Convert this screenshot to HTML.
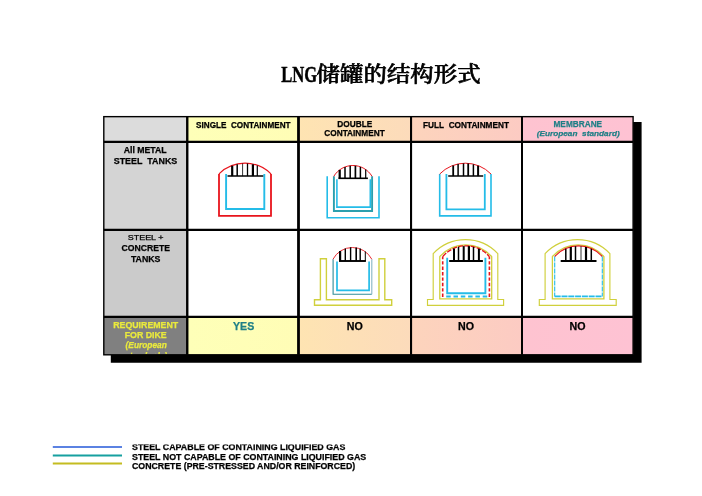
<!DOCTYPE html>
<html lang="zh"><head><meta charset="utf-8"><title>LNG储罐的结构形式</title>
<style>
html,body{margin:0;padding:0;background:#fff;}
body{width:702px;height:496px;overflow:hidden;position:relative;}
svg{position:absolute;left:0;top:0;display:block;will-change:transform;}
text{font-family:"Liberation Sans", sans-serif;}
.b{font-weight:bold;}
.i{font-style:italic;}
.title{font-family:"Liberation Serif","Noto Serif CJK SC",serif;font-weight:bold;}
</style></head><body>
<svg width="702" height="496" viewBox="0 0 702 496">
<defs>
<linearGradient id="g1" x1="0" x2="1" y1="0" y2="0"><stop offset="0" stop-color="#feffb8"/><stop offset="1" stop-color="#fffdb6"/></linearGradient>
<linearGradient id="g2" x1="0" x2="1" y1="0" y2="0"><stop offset="0" stop-color="#fee4b2"/><stop offset="1" stop-color="#fcdbbb"/></linearGradient>
<linearGradient id="g3" x1="0" x2="1" y1="0" y2="0"><stop offset="0" stop-color="#fdd4bc"/><stop offset="1" stop-color="#fccbc3"/></linearGradient>
<linearGradient id="g4" x1="0" x2="1" y1="0" y2="0"><stop offset="0" stop-color="#fec3d0"/><stop offset="1" stop-color="#fec2d3"/></linearGradient>
</defs>

<path d="M633.1 122H641.6V362.65H110.8V354.8H633.1Z" fill="#000"/>
<rect x="103.8" y="116.65" width="83.45" height="25.25" fill="#dcdcdc"/>
<rect x="187.25" y="116.65" width="111.25" height="25.25" fill="url(#g1)"/>
<rect x="298.5" y="116.65" width="112.55000000000001" height="25.25" fill="url(#g2)"/>
<rect x="411.05" y="116.65" width="110.94999999999999" height="25.25" fill="url(#g3)"/>
<rect x="522.0" y="116.65" width="111.10000000000002" height="25.25" fill="url(#g4)"/>
<rect x="103.8" y="141.9" width="83.45" height="87.9" fill="#d4d4d4"/>
<rect x="187.25" y="141.9" width="111.25" height="87.9" fill="#fff"/>
<rect x="298.5" y="141.9" width="112.55000000000001" height="87.9" fill="#fff"/>
<rect x="411.05" y="141.9" width="110.94999999999999" height="87.9" fill="#fff"/>
<rect x="522.0" y="141.9" width="111.10000000000002" height="87.9" fill="#fff"/>
<rect x="103.8" y="229.8" width="83.45" height="87.14999999999998" fill="#cbcbcb"/>
<rect x="187.25" y="229.8" width="111.25" height="87.14999999999998" fill="#fff"/>
<rect x="298.5" y="229.8" width="112.55000000000001" height="87.14999999999998" fill="#fff"/>
<rect x="411.05" y="229.8" width="110.94999999999999" height="87.14999999999998" fill="#fff"/>
<rect x="522.0" y="229.8" width="111.10000000000002" height="87.14999999999998" fill="#fff"/>
<rect x="103.8" y="316.95" width="83.45" height="37.85000000000002" fill="#808080"/>
<rect x="187.25" y="316.95" width="111.25" height="37.85000000000002" fill="url(#g1)"/>
<rect x="298.5" y="316.95" width="112.55000000000001" height="37.85000000000002" fill="url(#g2)"/>
<rect x="411.05" y="316.95" width="110.94999999999999" height="37.85000000000002" fill="url(#g3)"/>
<rect x="522.0" y="316.95" width="111.10000000000002" height="37.85000000000002" fill="url(#g4)"/>
<line x1="187.25" y1="116.65" x2="187.25" y2="354.8" stroke="#000" stroke-width="2.4"/>
<line x1="298.5" y1="116.65" x2="298.5" y2="354.8" stroke="#000" stroke-width="2.8"/>
<line x1="411.05" y1="116.65" x2="411.05" y2="354.8" stroke="#000" stroke-width="2.1"/>
<line x1="522.0" y1="116.65" x2="522.0" y2="354.8" stroke="#000" stroke-width="2.0"/>
<line x1="103.8" y1="141.9" x2="633.1" y2="141.9" stroke="#000" stroke-width="2.2"/>
<line x1="103.8" y1="229.8" x2="633.1" y2="229.8" stroke="#000" stroke-width="2.2"/>
<line x1="103.8" y1="316.95" x2="633.1" y2="316.95" stroke="#000" stroke-width="2.2"/>
<rect x="103.8" y="116.65" width="529.3000000000001" height="238.15" fill="none" stroke="#000" stroke-width="1.4"/>
<text x="281.2" y="81.5" font-size="22.4" class="title" text-anchor="start" textLength="36" lengthAdjust="spacingAndGlyphs" fill="#000" stroke="#000" stroke-width="0.45">LNG</text>
<text x="316.6" y="80.7" font-size="21" class="title" style="font-weight:500" stroke="#000" stroke-width="0.65" stroke-linejoin="round" text-anchor="start" textLength="164" lengthAdjust="spacingAndGlyphs" fill="#000">储罐的结构形式</text>
<text x="243.3" y="127.7" font-size="8.6" class="b" fill="#000" stroke="#000" stroke-width="0.25" text-anchor="middle" textLength="94.5" lengthAdjust="spacingAndGlyphs" xml:space="preserve">SINGLE&#160; CONTAINMENT</text>
<text x="354.8" y="126.6" font-size="8.6" class="b" fill="#000" stroke="#000" stroke-width="0.25" text-anchor="middle" textLength="35" lengthAdjust="spacingAndGlyphs">DOUBLE</text>
<text x="354.5" y="136.4" font-size="8.6" class="b" fill="#000" stroke="#000" stroke-width="0.25" text-anchor="middle" textLength="60.4" lengthAdjust="spacingAndGlyphs">CONTAINMENT</text>
<text x="466" y="127.7" font-size="8.6" class="b" fill="#000" stroke="#000" stroke-width="0.25" text-anchor="middle" textLength="86" lengthAdjust="spacingAndGlyphs" xml:space="preserve">FULL&#160; CONTAINMENT</text>
<text x="577.8" y="126.9" font-size="9.6" class="b" fill="#1f7f86" stroke="#1f7f86" stroke-width="0.25" text-anchor="middle" textLength="48.6" lengthAdjust="spacingAndGlyphs">MEMBRANE</text>
<text x="578.2" y="135.8" font-size="8" class="b i" fill="#1f7f86" stroke="#1f7f86" stroke-width="0.25" text-anchor="middle" textLength="83" lengthAdjust="spacingAndGlyphs">(European&#160; standard)</text>
<text x="145.2" y="152.8" font-size="8.8" class="b" fill="#000" stroke="#000" stroke-width="0.25" text-anchor="middle" textLength="43" lengthAdjust="spacingAndGlyphs">All METAL</text>
<text x="145.5" y="163.8" font-size="8.8" class="b" fill="#000" stroke="#000" stroke-width="0.25" text-anchor="middle" textLength="63.5" lengthAdjust="spacingAndGlyphs">STEEL&#160; TANKS</text>
<text x="145.6" y="239.6" font-size="7.2" class="" fill="#000" stroke="#000" stroke-width="0.25" text-anchor="middle" textLength="35.6" lengthAdjust="spacingAndGlyphs">STEEL +</text>
<text x="145.7" y="251.3" font-size="9.7" class="b" fill="#000" stroke="#000" stroke-width="0.25" text-anchor="middle" textLength="48.6" lengthAdjust="spacingAndGlyphs">CONCRETE</text>
<text x="145.7" y="261.8" font-size="9.5" class="b" fill="#000" stroke="#000" stroke-width="0.25" text-anchor="middle" textLength="29.6" lengthAdjust="spacingAndGlyphs">TANKS</text>
<clipPath id="cl"><rect x="104" y="318" width="82" height="36"/></clipPath><g clip-path="url(#cl)">
<text x="145.7" y="327.9" font-size="8.8" class="b" fill="#eaea3c" stroke="#eaea3c" stroke-width="0.25" text-anchor="middle" textLength="65" lengthAdjust="spacingAndGlyphs">REQUIREMENT</text>
<text x="145.7" y="337.7" font-size="9.1" class="b" fill="#eaea3c" stroke="#eaea3c" stroke-width="0.25" text-anchor="middle" textLength="42" lengthAdjust="spacingAndGlyphs">FOR DIKE</text>
<text x="146.2" y="348.0" font-size="8.9" class="b i" fill="#eaea3c" stroke="#eaea3c" stroke-width="0.25" text-anchor="middle" textLength="41.3" lengthAdjust="spacingAndGlyphs">(European</text>
<text x="146.2" y="359.3" font-size="8.9" class="b i" fill="#eaea3c" stroke="#eaea3c" stroke-width="0.25" text-anchor="middle" textLength="42" lengthAdjust="spacingAndGlyphs">standards)</text>
</g>
<text x="243.6" y="329.8" font-size="10.3" class="b" fill="#1f7f86" stroke="#1f7f86" stroke-width="0.25" text-anchor="middle" textLength="21.2" lengthAdjust="spacingAndGlyphs">YES</text>
<text x="354.8" y="329.8" font-size="10.3" class="b" fill="#000" stroke="#000" stroke-width="0.25" text-anchor="middle" textLength="16" lengthAdjust="spacingAndGlyphs">NO</text>
<text x="466" y="329.8" font-size="10.3" class="b" fill="#000" stroke="#000" stroke-width="0.25" text-anchor="middle" textLength="16" lengthAdjust="spacingAndGlyphs">NO</text>
<text x="577.5" y="329.8" font-size="10.3" class="b" fill="#000" stroke="#000" stroke-width="0.25" text-anchor="middle" textLength="16" lengthAdjust="spacingAndGlyphs">NO</text>
<path d="M219.0 173.9V215.9H271.0V173.9" fill="none" stroke="#e8141c" stroke-width="1.8"/>
<path d="M219.0 173.9A36.94 36.94 0 0 1 271.0 173.9" fill="none" stroke="#e8141c" stroke-width="1.2"/>
<path d="M226.1 174V209H264.3V174" fill="none" stroke="#24bce8" stroke-width="1.9"/>
<line x1="227.5" y1="176.1" x2="263.3" y2="176.1" stroke="#000" stroke-width="1.5"/>
<line x1="232.2" y1="165.7" x2="232.2" y2="176.1" stroke="#000" stroke-width="2.2"/>
<line x1="237.2" y1="164.2" x2="237.2" y2="176.1" stroke="#000" stroke-width="1.5"/>
<line x1="242.6" y1="163.5" x2="242.6" y2="176.1" stroke="#000" stroke-width="0.8"/>
<line x1="247.5" y1="163.5" x2="247.5" y2="176.1" stroke="#000" stroke-width="1.3"/>
<line x1="252.9" y1="164.3" x2="252.9" y2="176.1" stroke="#000" stroke-width="2.2"/>
<line x1="257.3" y1="165.5" x2="257.3" y2="176.1" stroke="#000" stroke-width="1.2"/>
<path d="M439.7 174.0V215.9H491.0V174.0" fill="none" stroke="#24bce8" stroke-width="1.6"/>
<path d="M439.7 174.0A35.86 35.86 0 0 1 491.0 174.0" fill="none" stroke="#e8141c" stroke-width="1.0"/>
<path d="M446.4 174V209.3H484.8V174" fill="none" stroke="#24bce8" stroke-width="1.8"/>
<line x1="448.2" y1="176.1" x2="483.2" y2="176.1" stroke="#000" stroke-width="1.5"/>
<line x1="453.2" y1="165.5" x2="453.2" y2="176.1" stroke="#000" stroke-width="1.8"/>
<line x1="458.1" y1="164.1" x2="458.1" y2="176.1" stroke="#000" stroke-width="1.5"/>
<line x1="463.5" y1="163.4" x2="463.5" y2="176.1" stroke="#000" stroke-width="1.5"/>
<line x1="468.2" y1="163.5" x2="468.2" y2="176.1" stroke="#000" stroke-width="1.8"/>
<line x1="473.4" y1="164.3" x2="473.4" y2="176.1" stroke="#000" stroke-width="1.5"/>
<line x1="478.1" y1="165.7" x2="478.1" y2="176.1" stroke="#000" stroke-width="2.0"/>
<path d="M327.2 176.3V217.8H379V176.3" fill="none" stroke="#24bce8" stroke-width="1.6"/>
<path d="M333.9 176.3V211H372.1V176.3" fill="none" stroke="#2a9fae" stroke-width="1.9"/>
<path d="M336.9 179.2V207.1H370.3V179.2" fill="none" stroke="#24bce8" stroke-width="1.6"/>
<path d="M333.8 176.3A22.29 22.29 0 0 1 372.0 176.3" fill="none" stroke="#e8141c" stroke-width="1.0"/>
<line x1="338.4" y1="178.3" x2="367.9" y2="178.3" stroke="#000" stroke-width="1.6"/>
<line x1="339.7" y1="169.9" x2="339.7" y2="178.3" stroke="#000" stroke-width="2.2"/>
<line x1="345" y1="167.0" x2="345" y2="178.3" stroke="#000" stroke-width="1.5"/>
<line x1="350.2" y1="165.8" x2="350.2" y2="178.3" stroke="#000" stroke-width="1.5"/>
<line x1="355.4" y1="165.7" x2="355.4" y2="178.3" stroke="#000" stroke-width="1.7"/>
<line x1="360.4" y1="166.9" x2="360.4" y2="178.3" stroke="#000" stroke-width="1.5"/>
<line x1="365.7" y1="169.6" x2="365.7" y2="178.3" stroke="#000" stroke-width="1.2"/>
<path d="M320.4 258.8H326.4V299.8H379V258.8H384.8V299.8H391.7V305.3H314.5V299.8H320.4Z" fill="none" stroke="#d0d03c" stroke-width="1.4"/>
<path d="M333.1 259.2V294.2H371.8" fill="none" stroke="#2f8c98" stroke-width="1.1"/>
<path d="M371.8 294.2V259.2" fill="none" stroke="#86b4c4" stroke-width="1.1"/>
<path d="M337 261.4V290.3H369.1V261.4" fill="none" stroke="#24bce8" stroke-width="1.7"/>
<path d="M333.0 259.2A21.93 21.93 0 0 1 371.8 259.2" fill="none" stroke="#e8141c" stroke-width="0.9"/>
<line x1="339" y1="261.0" x2="365.9" y2="261.0" stroke="#000" stroke-width="1.9"/>
<line x1="340.1" y1="251.0" x2="340.1" y2="261.0" stroke="#000" stroke-width="2.2"/>
<line x1="345.3" y1="248.4" x2="345.3" y2="261.0" stroke="#000" stroke-width="1.4"/>
<line x1="350.6" y1="247.3" x2="350.6" y2="261.0" stroke="#000" stroke-width="1.4"/>
<line x1="356.2" y1="247.5" x2="356.2" y2="261.0" stroke="#000" stroke-width="1.6"/>
<line x1="360.2" y1="248.6" x2="360.2" y2="261.0" stroke="#000" stroke-width="1.4"/>
<line x1="365.3" y1="251.4" x2="365.3" y2="261.0" stroke="#000" stroke-width="1.0"/>
<path d="M427.5 299.5H433.2V253.6A44.26 44.26 0 0 1 497.8 253.6V299.5H503.6V305.4H427.5Z" fill="none" stroke="#d0d03c" stroke-width="1.15"/>
<path d="M439.8 298.8V256.6A34.43 34.43 0 0 1 491.7 256.6V298.8Z" fill="none" stroke="#d0d03c" stroke-width="1.3"/>
<path d="M442.7 297V256.6" fill="none" stroke="#e8141c" stroke-width="1.6" stroke-dasharray="3.4 2"/>
<path d="M489.4 297V256.6" fill="none" stroke="#e8141c" stroke-width="1.6" stroke-dasharray="3.4 2"/>
<path d="M442.7 256.6A30.64 30.64 0 0 1 489.4 256.6" fill="none" stroke="#e8141c" stroke-width="1.3" stroke-dasharray="5 1.2"/>
<line x1="446.2" y1="296.5" x2="489.4" y2="296.5" stroke="#24bce8" stroke-width="1.9" stroke-dasharray="4.5 2.8"/>
<path d="M447.2 257.8V293.2H485.4V257.8" fill="none" stroke="#24bce8" stroke-width="1.9"/>
<line x1="449.2" y1="261" x2="482.9" y2="261" stroke="#000" stroke-width="2"/>
<line x1="454.0" y1="248.5" x2="454.0" y2="261" stroke="#000" stroke-width="2.0"/>
<line x1="458.5" y1="246.9" x2="458.5" y2="261" stroke="#000" stroke-width="1.5"/>
<line x1="463.7" y1="246.1" x2="463.7" y2="261" stroke="#000" stroke-width="2.0"/>
<line x1="468.9" y1="246.1" x2="468.9" y2="261" stroke="#000" stroke-width="2.2"/>
<line x1="473.5" y1="246.9" x2="473.5" y2="261" stroke="#000" stroke-width="1.5"/>
<line x1="478.9" y1="248.8" x2="478.9" y2="261" stroke="#000" stroke-width="2.0"/>
<path d="M539.3 299.5H545.1V253.6A44.49 44.49 0 0 1 609.9 253.6V299.5H616.2V305.4H539.3Z" fill="none" stroke="#d0d03c" stroke-width="1.15"/>
<path d="M552.4 298.8V256.6A34.00 34.00 0 0 1 603.9 256.6V298.8Z" fill="none" stroke="#d0d03c" stroke-width="1.3"/>
<path d="M554.7 256.6A31.82 31.82 0 0 1 602.3 256.6" fill="none" stroke="#e8141c" stroke-width="1.1"/>
<path d="M554.7 256.6V296.4" fill="none" stroke="#24bce8" stroke-width="1.1" stroke-dasharray="5 1"/>
<path d="M602.3 256.6V296.4" fill="none" stroke="#24bce8" stroke-width="1.1" stroke-dasharray="5 1"/>
<path d="M554.7 296.4H602.3" fill="none" stroke="#24bce8" stroke-width="1.9" stroke-dasharray="6 0.8"/>
<line x1="560.7" y1="261" x2="596.5" y2="261" stroke="#000" stroke-width="2"/>
<line x1="565.8" y1="248.7" x2="565.8" y2="261" stroke="#000" stroke-width="1.5"/>
<line x1="570.8" y1="247.0" x2="570.8" y2="261" stroke="#000" stroke-width="2.2"/>
<line x1="575.5" y1="246.2" x2="575.5" y2="261" stroke="#000" stroke-width="1.5"/>
<line x1="581" y1="246.2" x2="581" y2="261" stroke="#000" stroke-width="0.8"/>
<line x1="586" y1="247.0" x2="586" y2="261" stroke="#000" stroke-width="2.2"/>
<line x1="591.3" y1="248.8" x2="591.3" y2="261" stroke="#000" stroke-width="1.5"/>
<line x1="52.8" y1="447" x2="122" y2="447" stroke="#2458d8" stroke-width="1.6"/>
<line x1="52.8" y1="455.5" x2="122" y2="455.5" stroke="#16a0a0" stroke-width="2"/>
<line x1="52.8" y1="463.6" x2="122" y2="463.6" stroke="#c4bc20" stroke-width="2"/>
<clipPath id="cl2"><rect x="120" y="444.4" width="300" height="30"/></clipPath><g clip-path="url(#cl2)">
<text x="132" y="450.0" font-size="8.8" class="b" fill="#000" stroke="#000" stroke-width="0.25" text-anchor="start" textLength="213.4" lengthAdjust="spacingAndGlyphs">STEEL CAPABLE OF CONTAINING LIQUIFIED GAS</text>
</g>
<text x="132" y="459.7" font-size="8.8" class="b" fill="#000" stroke="#000" stroke-width="0.25" text-anchor="start" textLength="234.2" lengthAdjust="spacingAndGlyphs">STEEL NOT CAPABLE OF CONTAINING LIQUIFIED GAS</text>
<text x="132" y="469.4" font-size="8.8" class="b" fill="#000" stroke="#000" stroke-width="0.25" text-anchor="start" textLength="223.2" lengthAdjust="spacingAndGlyphs">CONCRETE (PRE-STRESSED AND/OR REINFORCED)</text>
</svg></body></html>
